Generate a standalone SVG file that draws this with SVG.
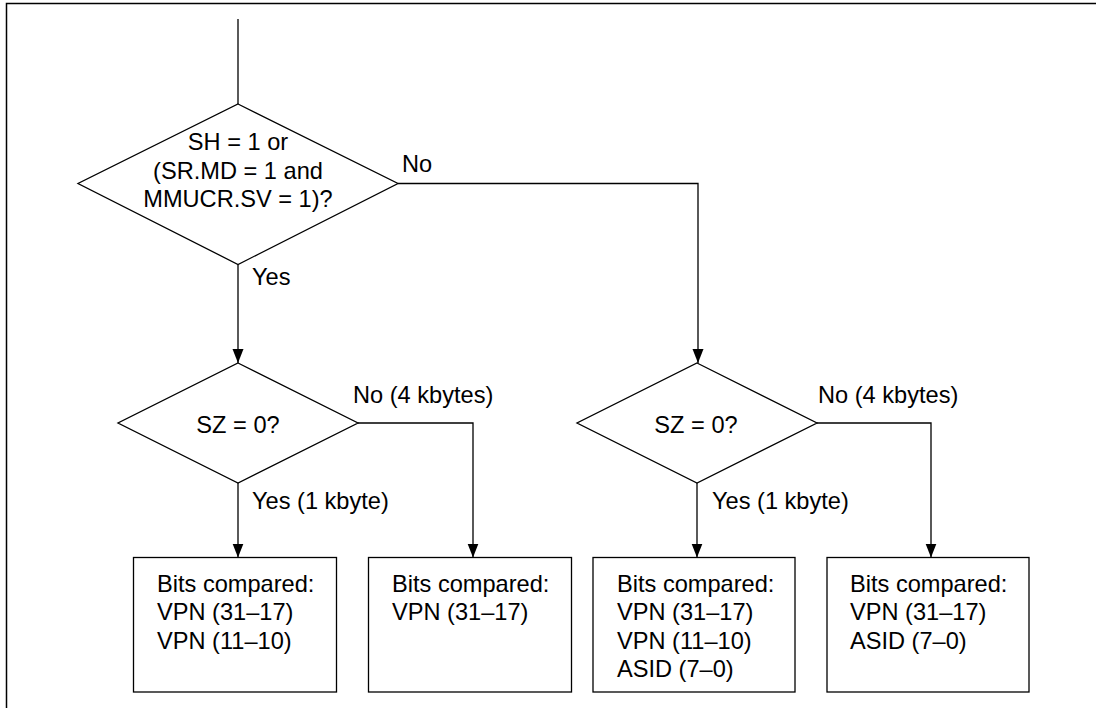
<svg xmlns="http://www.w3.org/2000/svg" width="1096" height="708" viewBox="0 0 1096 708">
<defs>
<style>
.s{fill:#fff;stroke:#000;stroke-width:1.3}
.c{fill:none;stroke:#000;stroke-width:1.3}
text{font-family:"Liberation Sans",Arial,Helvetica,sans-serif;font-size:23.6px;fill:#000}
.m{text-anchor:middle}
</style>
<marker id="ah" markerUnits="userSpaceOnUse" markerWidth="15" markerHeight="12" refX="14" refY="5.5" orient="auto">
<path d="M0,0 L14,5.5 L0,11 Z" fill="#000"/>
</marker>
</defs>
<rect width="1096" height="708" fill="#fff"/>
<path d="M6.5,710 V3.5 H1100" fill="none" stroke="#000" stroke-width="1.5"/>
<g id="connectors">
<path class="c" d="M238,19 V104"/>
<path class="c" d="M238,264.5 V363" marker-end="url(#ah)"/>
<path class="c" d="M398,183.5 H698 V363" marker-end="url(#ah)"/>
<path class="c" d="M238,483 V557.5" marker-end="url(#ah)"/>
<path class="c" d="M358,423 H473 V557.5" marker-end="url(#ah)"/>
<path class="c" d="M697,483 V557.5" marker-end="url(#ah)"/>
<path class="c" d="M817,423 H931 V557.5" marker-end="url(#ah)"/>
<text x="402" y="172">No</text>
<text x="252" y="285">Yes</text>
<text x="353" y="403">No (4 kbytes)</text>
<text x="252" y="509">Yes (1 kbyte)</text>
<text x="818" y="403">No (4 kbytes)</text>
<text x="712" y="509">Yes (1 kbyte)</text>
</g>
<g id="d1">
<path class="s" d="M238,104 L398,183.5 L238,264.5 L78,183.5 Z"/>
<text class="m" x="238" y="150">SH = 1 or</text>
<text class="m" x="238" y="178.5">(SR.MD = 1 and</text>
<text class="m" x="238" y="207">MMUCR.SV = 1)?</text>
</g>
<g id="d2">
<path class="s" d="M238,363 L358,423 L238,483 L118,423 Z"/>
<text class="m" x="238" y="432.5">SZ = 0?</text>
</g>
<g id="d3">
<path class="s" d="M697,363 L817,423 L697,483 L577,423 Z"/>
<text class="m" x="696" y="432.5">SZ = 0?</text>
</g>
<g id="b1">
<rect class="s" x="133.5" y="557.5" width="203" height="134.5"/>
<text x="157" y="591.5">Bits compared:</text>
<text x="157" y="620">VPN (31–17)</text>
<text x="157" y="648.5">VPN (11–10)</text>
</g>
<g id="b2">
<rect class="s" x="368.5" y="557.5" width="203" height="134.5"/>
<text x="392" y="591.5">Bits compared:</text>
<text x="392" y="620">VPN (31–17)</text>
</g>
<g id="b3">
<rect class="s" x="593" y="557.5" width="202" height="134.5"/>
<text x="617" y="591.5">Bits compared:</text>
<text x="617" y="620">VPN (31–17)</text>
<text x="617" y="648.5">VPN (11–10)</text>
<text x="617" y="677">ASID (7–0)</text>
</g>
<g id="b4">
<rect class="s" x="827" y="557.5" width="202" height="134.5"/>
<text x="850" y="591.5">Bits compared:</text>
<text x="850" y="620">VPN (31–17)</text>
<text x="850" y="648.5">ASID (7–0)</text>
</g>
</svg>
